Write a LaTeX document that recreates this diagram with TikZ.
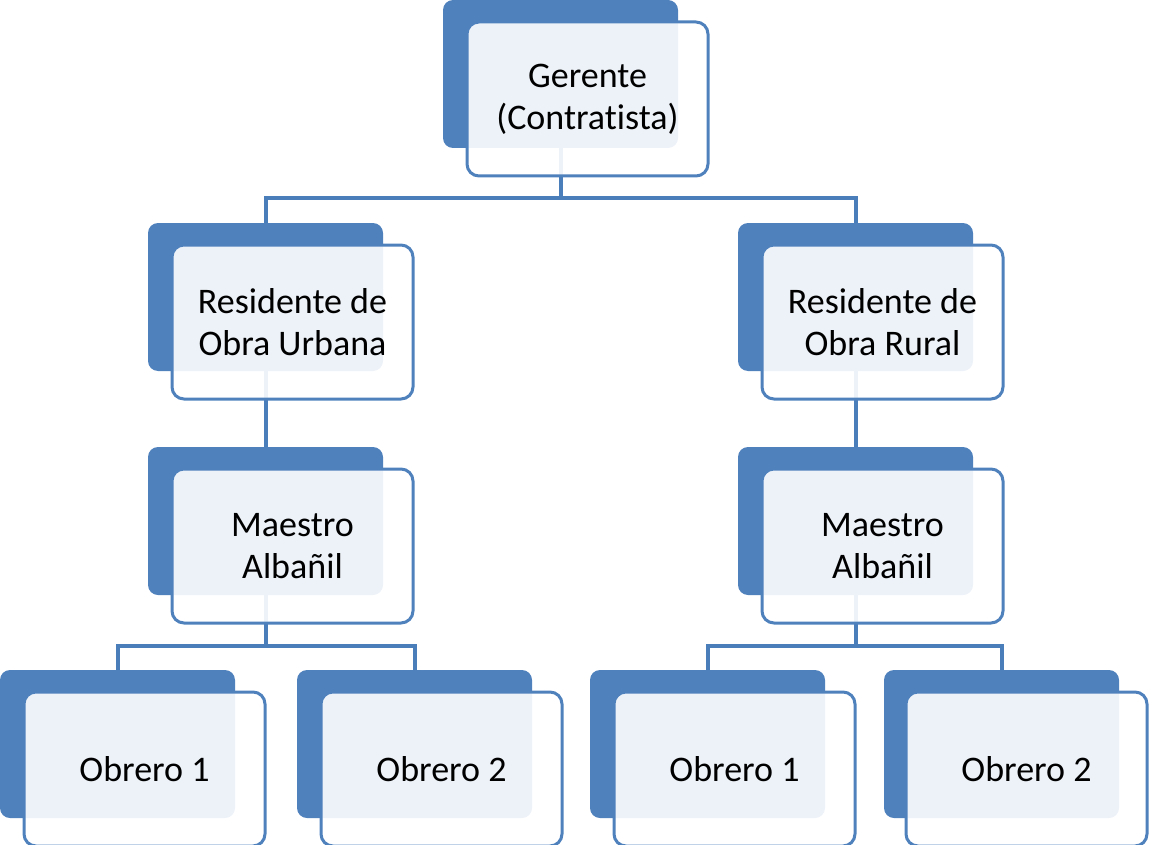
\documentclass[tikz,border=0pt]{standalone}
\usepackage{fontspec}
\setmainfont{Carlito}[Ligatures=NoCommon]
\usetikzlibrary{backgrounds}
\definecolor{orgblue}{HTML}{4F81BD}
\definecolor{linkblue}{HTML}{4A7EBB}

\begin{document}
\begin{tikzpicture}[x=0.75pt,y=-0.75pt,
    backbox/.style={rectangle,rounded corners=7.5pt,fill=orgblue,minimum width=176.25pt,minimum height=111pt,anchor=north west,outer sep=0pt,inner sep=0pt},
    frontbox/.style={rectangle,rounded corners=9pt,draw=orgblue,line width=2.25pt,fill=white,fill opacity=0.9,text opacity=1,minimum width=180.75pt,minimum height=115.5pt,anchor=north west,outer sep=0pt,inner sep=0pt,align=center,font=\fontsize{27pt}{31.5pt}\selectfont},
    link/.style={draw=linkblue,line width=3pt}]
        \useasboundingbox (0,0) rectangle (1149,845);

        \node[backbox] (gerente-b) at (443,0) {};
        \node[frontbox] (gerente) at (467,22) {Gerente\\(Contratista)};

        \node[backbox] (urbana-b) at (148,223) {};
        \node[frontbox] (urbana) at (172,245) {Residente de\\Obra Urbana};
        \node[backbox] (rural-b) at (738,223) {};
        \node[frontbox] (rural) at (762,245) {Residente de\\Obra Rural};

        \node[backbox] (maestroU-b) at (148,447) {};
        \node[frontbox] (maestroU) at (172,469) {Maestro\\Albañil};
        \node[backbox] (maestroR-b) at (738,447) {};
        \node[frontbox] (maestroR) at (762,469) {Maestro\\Albañil};

        \node[backbox] (obreroU1-b) at (0,670) {};
        \node[frontbox] (obreroU1) at (24,692) {Obrero 1};
        \node[backbox] (obreroU2-b) at (297,670) {};
        \node[frontbox] (obreroU2) at (321,692) {Obrero 2};
        \node[backbox] (obreroR1-b) at (590,670) {};
        \node[frontbox] (obreroR1) at (614,692) {Obrero 1};
        \node[backbox] (obreroR2-b) at (884,670) {};
        \node[frontbox] (obreroR2) at (906,692) {Obrero 2};

        \begin{scope}[on background layer]
        \draw[link] (gerente-b.south) -- ++(0,50) -| (urbana-b.north);
        \draw[link] (gerente-b.south) -- ++(0,50) -| (rural-b.north);
        \draw[link] (urbana-b.south) -- (maestroU-b.north);
        \draw[link] (rural-b.south) -- (maestroR-b.north);
        \draw[link] (maestroU-b.south) -- ++(0,51) -| (obreroU1-b.north);
        \draw[link] (maestroU-b.south) -- ++(0,51) -| (obreroU2-b.north);
        \draw[link] (maestroR-b.south) -- ++(0,51) -| (obreroR1-b.north);
        \draw[link] (maestroR-b.south) -- ++(0,51) -| (obreroR2-b.north);
        \end{scope}
    \end{tikzpicture}
\end{document}
